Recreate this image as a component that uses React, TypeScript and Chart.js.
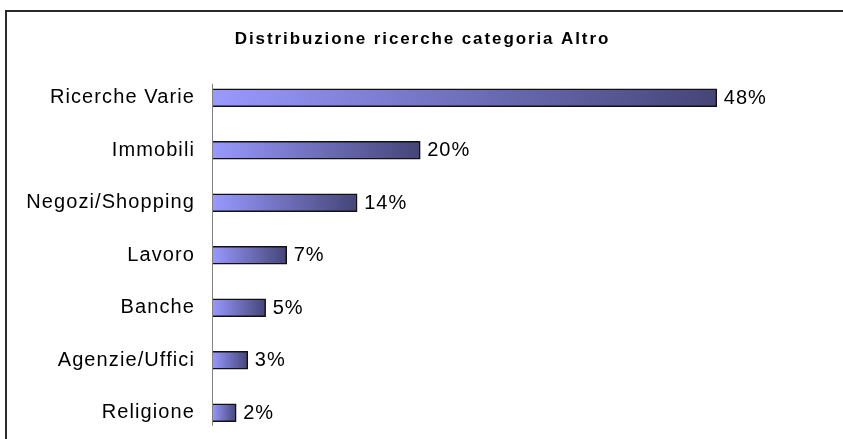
import React, { useEffect, useRef } from "react";
import { Chart, registerables } from "chart.js";

Chart.register(...registerables);

const chartTitle = "Distribuzione ricerche categoria Altro";
const categories = [
  "Ricerche Varie",
  "Immobili",
  "Negozi/Shopping",
  "Lavoro",
  "Banche",
  "Agenzie/Uffici",
  "Religione",
];
const values = [48.0, 19.8, 13.8, 7.1, 5.1, 3.4, 2.3];
const axisMax = 60;

const FONT = '"Liberation Sans", Arial, Helvetica, sans-serif';
const W = 843;
const H = 439;

const decorPlugin = {
  id: "decor",
  beforeDraw(chart: any) {
    const ctx = chart.ctx;
    ctx.save();
    ctx.fillStyle = "#2b2b2b";
    ctx.fillRect(5, 10, chart.width - 5, 2);
    ctx.fillRect(5, 10, 2, chart.height - 10);
    ctx.font = `bold 17px ${FONT}`;
    ctx.letterSpacing = "1.9px";
    ctx.fillStyle = "#000";
    ctx.textAlign = "center";
    ctx.textBaseline = "alphabetic";
    ctx.fillText(chartTitle, chart.width / 2 + 1, 44);
    ctx.restore();
    ctx.letterSpacing = "1.1px";
  },
  afterDatasetsDraw(chart: any) {
    const ctx = chart.ctx;
    const meta = chart.getDatasetMeta(0);
    const { chartArea } = chart;
    ctx.save();
    const first = meta.data[0];
    const last = meta.data[meta.data.length - 1];
    if (first && last) {
      ctx.beginPath();
      ctx.strokeStyle = "#808080";
      ctx.lineWidth = 1;
      const x = Math.round(chartArea.left) + 0.5;
      ctx.moveTo(x, first.y - first.height / 2 - 5);
      ctx.lineTo(x, last.y + last.height / 2 + 4);
      ctx.stroke();
    }
    ctx.font = `20px ${FONT}`;
    ctx.letterSpacing = "1px";
    ctx.fillStyle = "#000";
    ctx.textAlign = "left";
    ctx.textBaseline = "middle";
    meta.data.forEach((bar: any, i: number) => {
      const v = chart.data.datasets[0].data[i] as number;
      ctx.fillText(`${Math.round(v)}%`, bar.x + 7, bar.y + 0.5);
    });
    ctx.restore();
  },
};

export default function App() {
  const canvasRef = useRef<HTMLCanvasElement | null>(null);

  useEffect(() => {
    const canvas = canvasRef.current;
    if (!canvas) return;
    const chart = new Chart(canvas, {
      type: "bar",
      data: {
        labels: categories,
        datasets: [
          {
            data: values,
            backgroundColor: (c: any) => {
              const ch = c.chart;
              const { chartArea, scales } = ch;
              if (!chartArea || !scales.x || c.raw == null) return "#9999FF";
              const x0 = scales.x.getPixelForValue(0);
              const x1 = scales.x.getPixelForValue(c.raw);
              if (!isFinite(x0) || !isFinite(x1) || x1 <= x0) return "#9999FF";
              const g = ch.ctx.createLinearGradient(x0, 0, x1, 0);
              g.addColorStop(0, "#9999FF");
              g.addColorStop(1, "#454578");
              return g;
            },
            borderColor: "#111111",
            borderWidth: 1.5,
            borderSkipped: "start",
            barThickness: 18,
          },
        ],
      },
      options: {
        indexAxis: "y",
        responsive: false,
        maintainAspectRatio: false,
        animation: false,
        devicePixelRatio: 1,
        layout: {
          autoPadding: false,
          padding: { top: 71.5, left: 0, right: 0, bottom: -3.5 },
        },
        plugins: {
          legend: { display: false },
          title: { display: false },
          tooltip: { enabled: false },
        },
        scales: {
          x: {
            display: false,
            min: 0,
            max: axisMax,
          },
          y: {
            grid: { display: false, drawTicks: false },
            border: { display: false },
            ticks: {
              autoSkip: false,
              color: "#000",
              padding: 17,
              font: { family: FONT, size: 20 },
            },
            afterFit: (s: any) => {
              s.width = 212;
              s.paddingTop = 0;
              s.paddingBottom = 0;
            },
          },
        },
      },
      plugins: [decorPlugin],
    });
    return () => chart.destroy();
  }, []);

  return (
    <canvas
      ref={canvasRef}
      width={W}
      height={H}
      style={{
        position: "fixed",
        left: 0,
        top: 0,
        width: `${W}px`,
        height: `${H}px`,
        display: "block",
        background: "#fff",
      }}
    />
  );
}
